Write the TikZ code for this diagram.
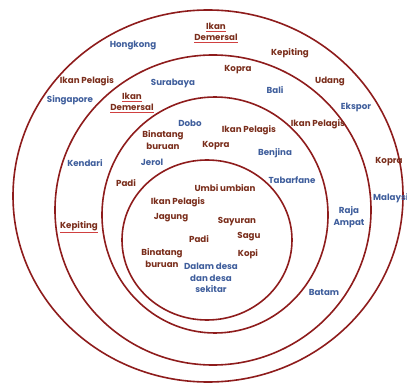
\documentclass[tikz,border=0pt]{standalone}
\usepackage{fontspec}
\setmainfont{Poppins}
\usepackage{tikz}

\definecolor{ringred}{HTML}{8E1C1C}
\definecolor{prodcol}{HTML}{7A2E1C}
\definecolor{loccol}{HTML}{3F5E9C}
\definecolor{ulred}{HTML}{D04040}

% red underline as in the original
\newcommand{\redul}[1]{\textcolor{ulred}{\underline{\textcolor{prodcol}{#1}}}}

\begin{document}
\begin{tikzpicture}[x=1pt,y=-1pt,
  ring/.style={draw=ringred,line width=1.6pt},
  prod/.style={text=prodcol,font=\fontsize{8.7}{11.5}\selectfont\bfseries,inner sep=0pt,align=center},
  loc/.style={text=loccol,font=\fontsize{8.7}{11.5}\selectfont\bfseries,inner sep=0pt,align=center}]

\useasboundingbox (0,0) rectangle (407,385);

% Rings (outer to inner)
\draw[ring] (208,196) ellipse [x radius=195pt, y radius=186pt];
\draw[ring] (213,210) ellipse [x radius=158pt, y radius=155pt];
\draw[ring] (215,215) ellipse [x radius=113pt, y radius=118pt];
\draw[ring] (207,240) ellipse [x radius=85pt, y radius=80pt];

% Outer ring
\node[prod] (demA) at (216,33) {\redul{Ikan}\\\redul{Demersal}};
\node[loc]  (hongkong) at (133,45) {Hongkong};
\node[prod] (kepA) at (290,53) {Kepiting};
\node[prod] (pelA) at (87,81) {Ikan Pelagis};
\node[loc]  (singapore) at (70,100) {Singapore};
\node[prod] (udang) at (330,81) {Udang};
\node[loc]  (ekspor) at (356,107) {Ekspor};
\node[prod] (kopA) at (389,162) {Kopra};
\node[loc,anchor=west] (malaysia) at (373,198) {Malaysia};
\node[loc]  (batam) at (324,292) {Batam};

% Second ring
\node[loc]  (surabaya) at (173,83) {Surabaya};
\node[prod] (kopB) at (238,70) {Kopra};
\node[loc]  (bali) at (275,90) {Bali};
\node[prod] (demB) at (132,103) {\redul{Ikan}\\\redul{Demersal}};
\node[prod] (pelB) at (318,124) {Ikan Pelagis};
\node[loc]  (kendari) at (85,163) {Kendari};
\node[prod] (kepB) at (79,227) {\redul{Kepiting}};
\node[loc]  (raja) at (349,217) {Raja\\Ampat};

% Third ring
\node[loc]  (dobo) at (190,123) {Dobo};
\node[prod] (binA) at (163,140) {Binatang\\buruan};
\node[prod] (pelC) at (249,130) {Ikan Pelagis};
\node[prod] (kopC) at (216,146) {Kopra};
\node[loc]  (jerol) at (152,162) {Jerol};
\node[loc]  (benjina) at (275,153) {Benjina};
\node[loc]  (tabarfane) at (292,180) {Tabarfane};
\node[prod] (padiA) at (126,183) {Padi};

% Inner circle
\node[prod] (umbi) at (225,188) {Umbi umbian};
\node[prod] (pelD) at (178,202) {Ikan Pelagis};
\node[prod] (jagung) at (171,218) {Jagung};
\node[prod] (sayuran) at (237,222) {Sayuran};
\node[prod] (padiB) at (199,239) {Padi};
\node[prod] (sagu) at (249,237) {Sagu};
\node[prod] (kopi) at (248,254) {Kopi};
\node[prod] (binB) at (162,258) {Binatang\\buruan};
\node[loc]  (desa) at (211,278) {Dalam desa\\dan desa\\sekitar};

\end{tikzpicture}
\end{document}
